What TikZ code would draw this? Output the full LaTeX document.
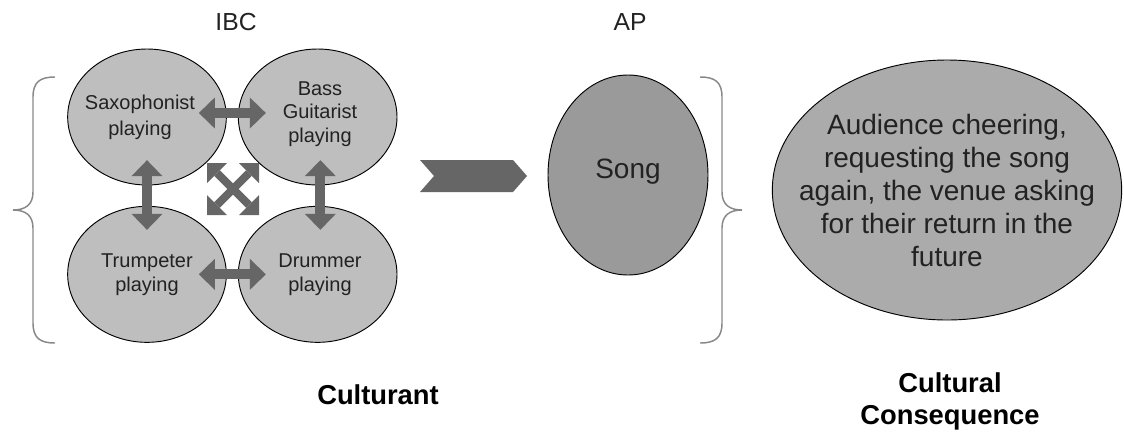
\documentclass[tikz,border=0pt]{standalone}
\usepackage{fontspec}
\setmainfont{Liberation Sans}
\usepackage{tikz}
\usetikzlibrary{shapes.geometric,arrows.meta,positioning}

\definecolor{player}{HTML}{BEBEBE}
\definecolor{songfill}{HTML}{9A9A9A}
\definecolor{consfill}{HTML}{ABABAB}
\definecolor{arrowgray}{HTML}{666666}
\definecolor{bracegray}{HTML}{888888}
\definecolor{ink}{HTML}{222222}

\begin{document}
\begin{tikzpicture}[x=0.75pt,y=-0.75pt,node distance=2cm,on grid,
  player/.style={ellipse,draw=black,line width=0.7pt,fill=player,inner sep=0pt,
    minimum width=119pt,minimum height=102pt,align=center,text=ink,
    font=\fontsize{15}{19.5}\selectfont},
  link/.style={arrowgray,line width=7.5pt,
    {Triangle[width=22.5pt,length=12pt]}-{Triangle[width=22.5pt,length=12pt]}},
  curly/.style={bracegray,line width=1.1pt},
  heading/.style={text=ink,font=\fontsize{18.5}{22}\selectfont},
  caption/.style={text=black,align=center,font=\fontsize{20.5}{24}\selectfont\bfseries}]
  \useasboundingbox (0,0) rectangle (1124,433);
  % the four players
  \node[player] (sax) at (147,117) {};
  \node[player] (bass) [right=128pt of sax] {};
  \node[player] (trump) [below=118pt of sax] {};
  \node[player] (drum) [below=118pt of bass] {};
  \node[text=ink,align=center,font=\fontsize{15}{19.5}\selectfont] (saxtext) at (140,117) {Saxophonist\\playing};
  \node[text=ink,align=center,font=\fontsize{15}{17.5}\selectfont] (basstext) at (320,114) {Bass\\Guitarist\\playing};
  \node[text=ink,align=center,font=\fontsize{15}{18}\selectfont] (trumptext) at (147,275) {Trumpeter\\playing};
  \node[text=ink,align=center,font=\fontsize{15}{18}\selectfont] (drumtext) at (320,275) {Drummer\\playing};
  \path[link]
  ([yshift=3pt]sax.east) edge [shorten <=-21pt,shorten >=-21pt] ([yshift=3pt]bass.west)
  (trump.east) edge [shorten <=-21pt,shorten >=-21pt] (drum.west)
  (sax.south) edge [shorten <=-19pt,shorten >=-18pt] (trump.north)
  ([xshift=2pt]bass.south) edge [shorten <=-19pt,shorten >=-18pt] ([xshift=2pt]drum.north)
  ;
  % cross icon in the middle
  \begin{scope}[shift={(233,189)}]
    \fill[arrowgray] (-26,-26) -- (-6,-26) -- (-26,-6) -- cycle;
    \fill[arrowgray] (26,-26) -- (6,-26) -- (26,-6) -- cycle;
    \fill[arrowgray] (-26,26) -- (-6,26) -- (-26,6) -- cycle;
    \fill[arrowgray] (26,26) -- (6,26) -- (26,6) -- cycle;
    \draw[arrowgray,line width=6pt] (-16,-16) -- (16,16);
    \draw[arrowgray,line width=6pt] (16,-16) -- (-16,16);
  \end{scope}
  % braces
  \draw[curly] (55,77) .. controls (40,77) and (33,82) .. (33,97) -- (33,192)
    .. controls (33,205) and (25,210) .. (13,210)
    .. controls (25,210) and (33,215) .. (33,228) -- (33,323)
    .. controls (33,338) and (40,343) .. (55,343);
  \draw[curly] (700,77) .. controls (715,77) and (722,82) .. (722,97) -- (722,192)
    .. controls (722,205) and (730,210) .. (742,210)
    .. controls (730,210) and (722,215) .. (722,228) -- (722,323)
    .. controls (722,338) and (715,343) .. (700,343);
  % chevron
  \fill[arrowgray] (420,160) -- (513,160) -- (527,176) -- (513,192) -- (420,192) -- (434,176) -- cycle;
  % song and consequence
  \node[ellipse,draw=black,line width=0.7pt,fill=songfill,inner sep=0pt,
    minimum width=120pt,minimum height=150pt,text=ink,
    font=\fontsize{21}{25}\selectfont] (song) at (628,175) {};
  \node[text=ink,font=\fontsize{21}{25}\selectfont] (songtext) at (628,172) {Song};
  \node[ellipse,draw=black,line width=0.7pt,fill=consfill,inner sep=0pt,
    minimum width=262pt,minimum height=195pt] (cons) at (947,190) {};
  \node[text=ink,align=center,font=\fontsize{21}{24.75}\selectfont] (constext) at (947,190)
    {Audience cheering,\\requesting the song\\again, the venue asking\\for their return in the\\future};
  % headings
  \node[heading] (ibc) at (236,22) {IBC};
  \node[heading] (ap) at (630,22) {AP};
  \node[caption] (culturant) at (378,395) {Culturant};
  \node[caption] (consequence) at (950,401) {Cultural\\Consequence};
\end{tikzpicture}
\end{document}
